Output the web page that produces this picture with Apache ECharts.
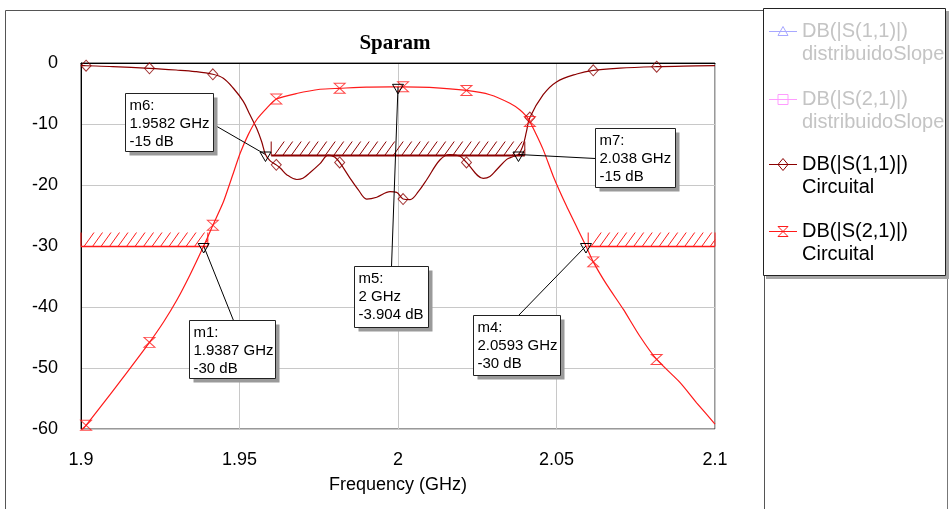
<!DOCTYPE html>
<html><head><meta charset="utf-8">
<script src="https://cdn.jsdelivr.net/npm/echarts@6/dist/echarts.min.js"></script>
<style>html,body{margin:0;padding:0;background:#fff}#c{width:949px;height:509px}</style>
</head><body><div id="c"></div>
<script>
// ---------- data ----------
const xTicks = [1.9, 1.95, 2, 2.05, 2.1];
const yTicks = [0, -10, -20, -30, -40, -50, -60];
const chartTitle = 'Sparam';
const xAxisName = 'Frequency (GHz)';

const s11Freq = [1.9000,1.9016,1.9100,1.9216,1.9300,1.9360,1.9416,1.9449,1.9480,1.9512,1.9533,1.9554,1.9570,1.9582,1.9596,1.9616,1.9630,1.9649,1.9681,1.9700,1.9722,1.9754,1.9780,1.9800,1.9816,1.9849,1.9875,1.9901,1.9933,1.9975,1.9996,2.0016,2.0038,2.0064,2.0091,2.0132,2.0164,2.0196,2.0216,2.0269,2.0290,2.0311,2.0343,2.0360,2.0380,2.0395,2.0405,2.0416,2.0458,2.0500,2.0564,2.0616,2.0700,2.0816,2.0900,2.1000];
const s11Db   = [-0.42,-0.45,-0.58,-0.87,-1.15,-1.4,-1.85,-2.5,-4.1,-6.3,-8.5,-10.7,-12.9,-15.0,-16.0,-16.7,-17.3,-18.3,-19.1,-18.9,-18.0,-16.5,-15.1,-15.4,-16.3,-18.9,-20.8,-22.3,-22.0,-21.1,-21.2,-22.3,-22.4,-21.1,-19.1,-15.9,-15.0,-15.3,-16.3,-18.9,-18.6,-17.5,-15.8,-15.4,-15.0,-13.4,-11.3,-8.95,-5.2,-3.1,-1.8,-1.2,-0.85,-0.6,-0.5,-0.44];

const s21Freq = [1.9000,1.9016,1.9091,1.9144,1.9216,1.9260,1.9302,1.9344,1.9387,1.9416,1.9449,1.9475,1.9502,1.9528,1.9554,1.9586,1.9616,1.9680,1.9754,1.9816,1.9900,2.0000,2.0016,2.0100,2.0216,2.0290,2.0353,2.0385,2.0406,2.0416,2.0458,2.0490,2.0532,2.0593,2.0616,2.0658,2.0711,2.0763,2.0816,2.0890,2.0942,2.1000];
const s21Db   = [-60.4,-59.4,-54.4,-50.8,-45.8,-42.5,-38.9,-34.7,-30.0,-26.6,-22.8,-18.9,-14.8,-11.7,-9.3,-7.4,-5.9,-5.0,-4.3,-4.15,-3.95,-3.904,-3.9,-4.0,-4.5,-5.2,-6.6,-7.7,-8.8,-9.6,-14.2,-18.6,-23.5,-30.0,-32.6,-36.3,-40.4,-44.8,-48.6,-52.4,-55.7,-59.2];

const symbolFreqs = [1.9016,1.9216,1.9416,1.9616,1.9816,2.0016,2.0216,2.0416,2.0616,2.0816];

const s11LimitStart = [1.96];
const s11LimitStop  = [2.04];
const s11LimitLevel = [-15];
const s21LimitStart = [1.9, 2.06];
const s21LimitStop  = [1.94, 2.1];
const s21LimitLevel = [-30, -30];

const markerNames   = ['m6', 'm7', 'm5', 'm1', 'm4'];
const markerFreq    = [1.9582, 2.038, 2.0, 1.9387, 2.0593];
const markerDb      = [-15, -15, -3.904, -30, -30];
const markerFreqTxt = ['1.9582 GHz', '2.038 GHz', '2 GHz', '1.9387 GHz', '2.0593 GHz'];
const markerDbTxt   = ['-15 dB', '-15 dB', '-3.904 dB', '-30 dB', '-30 dB'];

const legendLine1 = ['DB(|S(1,1)|)', 'DB(|S(2,1)|)', 'DB(|S(1,1)|)', 'DB(|S(2,1)|)'];
const legendLine2 = ['distribuidoSlope', 'distribuidoSlope', 'Circuital', 'Circuital'];

// ---------- styling / layout ----------
const FONT = 'Liberation Sans, Arial, sans-serif';
const C11 = '#8b0000';
const C21 = '#ff1a1a';
const boxLayout = {
  m6: {dx: -140, dy: -62, w: 88, h: 58, ax: 88, ay: 31},
  m7: {dx: 77,  dy: -27, w: 80, h: 59, ax: 0,  ay: 30},
  m5: {dx: -44, dy: 179, w: 74, h: 61, ax: 37, ay: 0},
  m1: {dx: -15, dy: 74,  w: 86, h: 58, ax: 44, ay: 0},
  m4: {dx: -113, dy: 69, w: 87, h: 60, ax: 45, ay: 0}
};

function pairs(f, d) { return f.map((x, i) => [x, d[i]]); }
function symbolPts(f, d) {
  return f.map((x, i) => [x, d[i]]).filter(p => symbolFreqs.some(s => Math.abs(s - p[0]) < 1e-6));
}

function limitSeries(starts, stops, levels, color, lw) {
  return {
    type: 'custom', clip: false, z: 3, silent: true,
    data: starts.map((s, i) => [s, stops[i], levels[i]]),
    encode: {x: [0, 1], y: 2},
    renderItem(params, api) {
      const p1 = api.coord([api.value(0), api.value(2)]);
      const p2 = api.coord([api.value(1), api.value(2)]);
      const y = Math.round(p1[1]) + 0.5;
      const H = 14, D = 10, S = 8.5;
      const ch = [];
      ch.push({type: 'line', shape: {x1: p1[0], y1: y, x2: p2[0], y2: y}, style: {stroke: color, lineWidth: lw}});
      ch.push({type: 'line', shape: {x1: p1[0], y1: y, x2: p1[0], y2: y - H}, style: {stroke: color, lineWidth: 1}});
      ch.push({type: 'line', shape: {x1: p2[0], y1: y, x2: p2[0], y2: y - H}, style: {stroke: color, lineWidth: 1}});
      for (let x = p1[0] + 3; x < p2[0] - 1; x += S) {
        let x2 = x + D, y2 = y - H;
        if (x2 > p2[0]) { const t = (p2[0] - x) / D; x2 = p2[0]; y2 = y - H * t; }
        ch.push({type: 'line', shape: {x1: x, y1: y, x2: x2, y2: y2}, style: {stroke: color, lineWidth: 1}});
      }
      return {type: 'group', children: ch};
    }
  };
}

const markerSeries = {
  type: 'custom', clip: false, z: 20, silent: true,
  data: markerFreq.map((f, i) => [f, markerDb[i], i]),
  encode: {x: 0, y: 1},
  renderItem(params, api) {
    const i = api.value(2);
    const p = api.coord([api.value(0), api.value(1)]);
    const L = boxLayout[markerNames[i]];
    const bx = Math.round(p[0] + L.dx) + 0.5, by = Math.round(p[1] + L.dy) + 0.5;
    const ch = [];
    ch.push({type: 'line', shape: {x1: p[0], y1: p[1], x2: bx + L.ax, y2: by + L.ay}, style: {stroke: '#000', lineWidth: 1}});
    ch.push({type: 'rect', shape: {x: bx + 4, y: by + 4, width: L.w, height: L.h}, style: {fill: '#9a9a9a'}});
    ch.push({type: 'rect', shape: {x: bx, y: by, width: L.w, height: L.h}, style: {fill: '#fff', stroke: '#222', lineWidth: 1}});
    const lines = [markerNames[i] + ':', markerFreqTxt[i], markerDbTxt[i]];
    lines.forEach((t, k) => {
      ch.push({type: 'text', style: {text: t, x: bx + 4, y: by + 12 + k * 18, font: '15px ' + FONT, fill: '#000', verticalAlign: 'middle', align: 'left'}});
    });
    const tx = p[0], ty = p[1] + 1;
    ch.push({type: 'polygon', shape: {points: [[tx - 5.5, ty - 3.5], [tx + 5.5, ty - 3.5], [tx, ty + 6]]}, style: {fill: 'none', stroke: '#000', lineWidth: 1}});
    return {type: 'group', children: ch};
  }
};

// legend graphic
const legendColors = ['#a8a8ff', '#ff9cff', C11, C21];
const legendTextColors = ['#c4c4c4', '#c4c4c4', '#000', '#000'];
const legendY1 = [31, 99, 164, 231];
function legendIcon(k, cx, cy) {
  const c = legendColors[k];
  const st = {fill: 'none', stroke: c, lineWidth: 1};
  if (k === 0) return {type: 'polygon', shape: {points: [[cx - 5, cy + 4], [cx + 5, cy + 4], [cx, cy - 5]]}, style: st};
  if (k === 1) return {type: 'rect', shape: {x: cx - 5, y: cy - 5, width: 10, height: 10}, style: st};
  if (k === 2) return {type: 'polygon', shape: {points: [[cx, cy - 6], [cx + 5, cy], [cx, cy + 6], [cx - 5, cy]]}, style: st};
  return {type: 'polygon', shape: {points: [[cx - 5, cy - 5], [cx + 5, cy - 5], [cx - 5, cy + 5], [cx + 5, cy + 5]]}, style: st};
}
const legendGraphics = [];
legendGraphics.push({type: 'rect', shape: {x: 766, y: 11, width: 183, height: 268}, style: {fill: '#a6a6a6'}, z: 1});
legendGraphics.push({type: 'rect', shape: {x: 763.5, y: 8.5, width: 182, height: 267}, style: {fill: '#fff', stroke: '#222', lineWidth: 1}, z: 2});
legendLine1.forEach((t, k) => {
  const y = legendY1[k];
  legendGraphics.push({type: 'line', shape: {x1: 769, y1: y + 0.5, x2: 797, y2: y + 0.5}, style: {stroke: legendColors[k], lineWidth: 1}, z: 3});
  const ic = legendIcon(k, 783, y + 0.5); ic.z = 3; legendGraphics.push(ic);
  legendGraphics.push({type: 'text', style: {text: t, x: 802, y: y, font: '20px ' + FONT, fill: legendTextColors[k], verticalAlign: 'middle'}, z: 3});
  legendGraphics.push({type: 'text', style: {text: legendLine2[k], x: 802, y: y + 23, font: '20px ' + FONT, fill: legendTextColors[k], verticalAlign: 'middle'}, z: 3});
});

const chart = echarts.init(document.getElementById('c'), null, {renderer: 'canvas'});
chart.setOption({
  backgroundColor: '#fff',
  animation: false,
  grid: {left: 81, right: 234, top: 63, bottom: 80, show: true, borderColor: '#333', borderWidth: 1, backgroundColor: 'transparent'},
  xAxis: {
    type: 'value', min: xTicks[0], max: xTicks[xTicks.length - 1], interval: 0.05,
    name: xAxisName, nameLocation: 'middle', nameGap: 47,
    nameTextStyle: {fontFamily: FONT, fontSize: 18, color: '#000'},
    axisLine: {show: true, lineStyle: {color: '#000', width: 1}},
    axisTick: {show: false},
    axisLabel: {fontFamily: FONT, fontSize: 18, color: '#000', margin: 22,
      formatter: v => String(parseFloat(Number(v).toFixed(3)))},
    splitLine: {show: true, lineStyle: {color: '#c8c8c8', width: 1}}
  },
  yAxis: {
    type: 'value', min: yTicks[yTicks.length - 1], max: yTicks[0], interval: 10,
    axisLine: {show: true, lineStyle: {color: '#000', width: 1}},
    axisTick: {show: false},
    axisLabel: {fontFamily: FONT, fontSize: 18, color: '#000', margin: 23},
    splitLine: {show: true, lineStyle: {color: '#c8c8c8', width: 1}}
  },
  graphic: [
    {type: 'rect', shape: {x: 5.5, y: 10.5, width: 759, height: 520}, style: {fill: 'none', stroke: '#555', lineWidth: 1}, z: 0},
    {type: 'line', shape: {x1: 947.5, y1: 279, x2: 947.5, y2: 509}, style: {stroke: '#777', lineWidth: 1}, z: 0},
    {type: 'text', style: {text: chartTitle, x: 395, y: 44, align: 'center', verticalAlign: 'middle',
      font: 'bold 21px Liberation Serif, Times New Roman, serif', fill: '#000'}, z: 5}
  ].concat(legendGraphics),
  series: [
    limitSeries(s21LimitStart, s21LimitStop, s21LimitLevel, C21, 1.5),
    limitSeries(s11LimitStart, s11LimitStop, s11LimitLevel, C11, 2),
    {type: 'line', name: 'DB(|S(1,1)|) Circuital', data: pairs(s11Freq, s11Db), showSymbol: false, smooth: 0.35,
      lineStyle: {color: C11, width: 1.2}, z: 5, silent: true},
    {type: 'line', name: 'DB(|S(2,1)|) Circuital', data: pairs(s21Freq, s21Db), showSymbol: false, smooth: 0.2,
      lineStyle: {color: C21, width: 1.2}, z: 5, silent: true},
    {type: 'scatter', data: symbolPts(s11Freq, s11Db), symbol: 'diamond', symbolSize: [10, 11],
      itemStyle: {color: 'rgba(0,0,0,0)', borderColor: C11, borderWidth: 1}, z: 6, silent: true},
    {type: 'scatter', data: symbolPts(s21Freq, s21Db), symbol: 'path://M0,0L10,0L0,10L10,10Z', symbolSize: [11, 10],
      itemStyle: {color: 'rgba(0,0,0,0)', borderColor: C21, borderWidth: 1}, z: 6, silent: true},
    markerSeries
  ]
});
</script>
</body></html>
